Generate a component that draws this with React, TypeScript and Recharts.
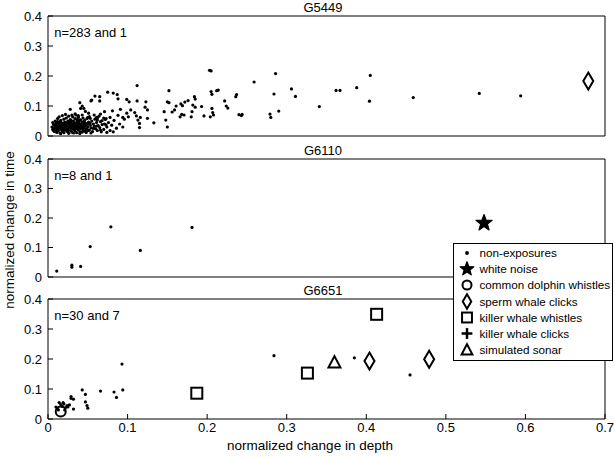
import React from 'react';
import { ScatterChart, Scatter, XAxis, YAxis, Legend } from 'recharts';

const X_TICKS = [0, 0.1, 0.2, 0.3, 0.4, 0.5, 0.6, 0.7];
const Y_TICKS = [0, 0.1, 0.2, 0.3, 0.4];
const X_LABEL = 'normalized change in depth';
const Y_LABEL = 'normalized change in time';

type Kind = 'dot' | 'star' | 'circle' | 'diamond' | 'square' | 'plus' | 'triangle';
const LEGEND_NAMES = ['non-exposures', 'white noise', 'common dolphin whistles', 'sperm whale clicks', 'killer whale whistles', 'killer whale clicks', 'simulated sonar'];
const LEGEND_KINDS: Kind[] = ['dot', 'star', 'circle', 'diamond', 'square', 'plus', 'triangle'];

// ---- G5449 ----
const G5449_NON: [number, number][] = [
  [0.203, 0.219], [0.205, 0.217], [0.286, 0.208], [0.259, 0.18], [0.112, 0.168], [0.306, 0.157], [0.311, 0.132], [0.284, 0.14],
  [0.237, 0.138], [0.236, 0.131], [0.214, 0.153], [0.212, 0.151], [0.205, 0.148], [0.206, 0.139], [0.152, 0.151], [0.075, 0.146],
  [0.082, 0.143], [0.087, 0.138], [0.088, 0.124], [0.059, 0.133], [0.065, 0.131], [0.055, 0.12], [0.054, 0.117], [0.065, 0.117],
  [0.099, 0.122], [0.102, 0.114], [0.112, 0.117], [0.123, 0.114], [0.122, 0.096], [0.184, 0.131], [0.185, 0.123], [0.176, 0.118],
  [0.172, 0.113], [0.167, 0.107], [0.169, 0.101], [0.152, 0.111], [0.15, 0.114], [0.161, 0.1], [0.159, 0.087], [0.156, 0.08],
  [0.146, 0.081], [0.148, 0.053], [0.15, 0.03], [0.168, 0.072], [0.166, 0.064], [0.171, 0.07], [0.182, 0.103], [0.185, 0.096],
  [0.193, 0.098], [0.181, 0.081], [0.18, 0.064], [0.196, 0.067], [0.206, 0.092], [0.207, 0.078], [0.208, 0.07], [0.204, 0.064],
  [0.222, 0.117], [0.224, 0.1], [0.226, 0.093], [0.24, 0.071], [0.244, 0.072], [0.243, 0.068], [0.279, 0.073], [0.28, 0.062],
  [0.29, 0.083], [0.341, 0.098], [0.091, 0.089], [0.081, 0.084], [0.088, 0.069], [0.094, 0.062], [0.071, 0.081], [0.073, 0.058],
  [0.066, 0.073], [0.061, 0.062], [0.062, 0.053], [0.068, 0.051], [0.071, 0.04], [0.073, 0.037], [0.104, 0.087], [0.109, 0.078],
  [0.111, 0.067], [0.116, 0.062], [0.113, 0.053], [0.115, 0.042], [0.115, 0.028], [0.125, 0.059], [0.133, 0.044], [0.099, 0.076],
  [0.101, 0.064], [0.096, 0.056], [0.045, 0.092], [0.047, 0.082], [0.043, 0.07], [0.051, 0.076], [0.053, 0.059], [0.05, 0.042],
  [0.048, 0.014], [0.051, 0.018], [0.035, 0.07], [0.038, 0.064], [0.04, 0.053], [0.125, 0.087], [0.028, 0.089], [0.04, 0.111],
  [0.043, 0.1], [0.041, 0.092], [0.362, 0.152], [0.367, 0.152], [0.388, 0.161], [0.405, 0.202], [0.404, 0.116], [0.459, 0.128],
  [0.542, 0.142], [0.594, 0.134],
  [0.005, 0.03], [0.006, 0.022], [0.007, 0.038], [0.008, 0.027], [0.008, 0.015], [0.009, 0.033], [0.01, 0.042], [0.01, 0.02],
  [0.011, 0.028], [0.011, 0.012], [0.012, 0.036], [0.012, 0.048], [0.013, 0.024], [0.013, 0.018], [0.014, 0.031], [0.014, 0.04],
  [0.015, 0.01], [0.015, 0.027], [0.016, 0.052], [0.016, 0.035], [0.017, 0.021], [0.017, 0.044], [0.018, 0.03], [0.018, 0.015],
  [0.019, 0.038], [0.019, 0.025], [0.02, 0.056], [0.02, 0.011], [0.021, 0.033], [0.021, 0.046], [0.022, 0.02], [0.022, 0.029],
  [0.023, 0.04], [0.023, 0.06], [0.024, 0.015], [0.024, 0.034], [0.025, 0.024], [0.025, 0.05], [0.026, 0.043], [0.026, 0.009],
  [0.027, 0.03], [0.027, 0.037], [0.028, 0.019], [0.028, 0.055], [0.029, 0.026], [0.029, 0.045], [0.03, 0.033], [0.03, 0.013],
  [0.031, 0.04], [0.031, 0.064], [0.032, 0.022], [0.032, 0.05], [0.033, 0.029], [0.033, 0.036], [0.034, 0.017], [0.034, 0.058],
  [0.035, 0.043], [0.035, 0.025], [0.036, 0.032], [0.036, 0.011], [0.037, 0.048], [0.037, 0.038], [0.038, 0.021], [0.038, 0.062],
  [0.039, 0.029], [0.039, 0.044], [0.04, 0.015], [0.04, 0.035], [0.041, 0.054], [0.041, 0.024], [0.042, 0.04], [0.042, 0.031],
  [0.043, 0.013], [0.043, 0.047], [0.044, 0.06], [0.044, 0.02], [0.045, 0.036], [0.045, 0.027], [0.046, 0.052], [0.046, 0.016],
  [0.047, 0.042], [0.047, 0.033], [0.048, 0.024], [0.049, 0.058], [0.049, 0.038], [0.05, 0.03], [0.051, 0.046], [0.052, 0.02],
  [0.052, 0.065], [0.053, 0.036], [0.054, 0.027], [0.055, 0.05], [0.056, 0.015], [0.057, 0.04], [0.058, 0.032], [0.059, 0.056],
  [0.06, 0.024], [0.061, 0.045], [0.062, 0.018], [0.063, 0.035], [0.064, 0.066], [0.065, 0.028], [0.066, 0.048], [0.067, 0.014],
  [0.068, 0.038], [0.07, 0.022], [0.072, 0.055], [0.074, 0.03], [0.076, 0.045], [0.078, 0.018], [0.08, 0.036], [0.083, 0.052],
  [0.086, 0.026], [0.006, 0.045], [0.009, 0.05], [0.012, 0.058], [0.014, 0.064], [0.018, 0.068], [0.022, 0.072], [0.026, 0.066],
  [0.03, 0.07], [0.034, 0.074], [0.038, 0.068], [0.016, 0.008], [0.02, 0.04], [0.024, 0.045], [0.028, 0.041], [0.032, 0.01],
  [0.036, 0.055], [0.04, 0.008], [0.044, 0.03], [0.048, 0.012], [0.05, 0.062], [0.054, 0.01], [0.058, 0.07], [0.062, 0.06],
  [0.066, 0.02], [0.07, 0.06], [0.074, 0.012], [0.078, 0.062], [0.082, 0.014], [0.09, 0.04], [0.094, 0.03], [0.01, 0.03],
  [0.013, 0.045], [0.017, 0.035], [0.021, 0.025], [0.025, 0.018], [0.029, 0.052], [0.033, 0.044], [0.037, 0.026], [0.041, 0.036],
  [0.045, 0.045], [0.049, 0.022], [0.053, 0.043], [0.057, 0.025], [0.061, 0.033], [0.007, 0.018], [0.011, 0.04], [0.015, 0.048],
  [0.019, 0.018], [0.023, 0.026], [0.027, 0.048], [0.031, 0.028], [0.035, 0.035], [0.039, 0.052], [0.043, 0.025],
];
const G5449_SPERM: [number, number][] = [[0.679, 0.183]];

// ---- G6110 ----
const G6110_NON: [number, number][] = [
  [0.011, 0.02], [0.03, 0.04], [0.03, 0.033], [0.041, 0.036], [0.053, 0.103], [0.079, 0.17], [0.116, 0.09], [0.181, 0.168],
];
const G6110_WHITE: [number, number][] = [[0.548, 0.183]];

// ---- G6651 ----
const G6651_NON: [number, number][] = [
  [0.093, 0.183], [0.284, 0.211], [0.043, 0.097], [0.047, 0.082], [0.066, 0.093], [0.083, 0.09], [0.086, 0.072], [0.094, 0.097],
  [0.029, 0.075], [0.029, 0.069], [0.032, 0.066], [0.032, 0.033], [0.027, 0.047], [0.025, 0.04], [0.047, 0.057], [0.049, 0.045],
  [0.05, 0.036], [0.385, 0.204], [0.455, 0.147], [0.01, 0.04], [0.012, 0.035], [0.014, 0.055], [0.016, 0.048], [0.018, 0.042],
  [0.02, 0.05], [0.022, 0.038], [0.013, 0.03], [0.021, 0.03], [0.019, 0.055], [0.024, 0.045],
];
const G6651_DOLPHIN: [number, number][] = [[0.016, 0.025]];
const G6651_SPERM: [number, number][] = [[0.404, 0.193], [0.479, 0.199]];
const G6651_KWW: [number, number][] = [[0.187, 0.086], [0.326, 0.153], [0.413, 0.349]];
const G6651_SONAR: [number, number][] = [[0.36, 0.188]];

const toPts = (a: [number, number][]) => a.map(([x, y]) => ({ x, y }));

const FONT = '"Liberation Sans", Arial, Helvetica, sans-serif';

function starPoints(cx: number, cy: number, R: number) {
  const r = R * 0.42;
  const pts: string[] = [];
  for (let i = 0; i < 10; i++) {
    const a = -Math.PI / 2 + (i * Math.PI) / 5;
    const rad = i % 2 === 0 ? R : r;
    pts.push(`${cx + rad * Math.cos(a)},${cy + rad * Math.sin(a)}`);
  }
  return pts.join(' ');
}

function Marker({ kind, cx, cy, s = 1 }: { kind: Kind; cx: number; cy: number; s?: number }) {
  const sw = 2;
  switch (kind) {
    case 'dot':
      return <circle cx={cx} cy={cy} r={1.6 * s} fill="#000" />;
    case 'star':
      return <polygon points={starPoints(cx, cy, 8.5 * s)} fill="#000" stroke="#000" strokeWidth={1.2} strokeLinejoin="round" />;
    case 'circle':
      return <circle cx={cx} cy={cy} r={5 * s} fill="none" stroke="#000" strokeWidth={sw} />;
    case 'diamond':
      return <polygon points={`${cx},${cy - 8.5 * s} ${cx + 5 * s},${cy} ${cx},${cy + 8.5 * s} ${cx - 5 * s},${cy}`} fill="none" stroke="#000" strokeWidth={sw} />;
    case 'square':
      return <rect x={cx - 5.5 * s} y={cy - 5.5 * s} width={11 * s} height={11 * s} fill="none" stroke="#000" strokeWidth={sw} />;
    case 'plus':
      return (
        <g stroke="#000" strokeWidth={2.5}>
          <line x1={cx - 6 * s} y1={cy} x2={cx + 6 * s} y2={cy} />
          <line x1={cx} y1={cy - 6 * s} x2={cx} y2={cy + 6 * s} />
        </g>
      );
    case 'triangle':
      return <polygon points={`${cx},${cy - 6.5 * s} ${cx + 6 * s},${cy + 5 * s} ${cx - 6 * s},${cy + 5 * s}`} fill="none" stroke="#000" strokeWidth={sw} strokeLinejoin="miter" />;
  }
  return null;
}

type SeriesDef = { name: string; kind: Kind; data: [number, number][] };

function LegendBox() {
  const rowY = [10, 26, 42, 58.5, 74.5, 90.5, 107];
  return (
    <svg width={160} height={118} style={{ display: 'block' }}>
      <rect x={0.5} y={0.5} width={159} height={117} fill="#fff" stroke="#000" strokeWidth={1} />
      {LEGEND_NAMES.map((n, i) => (
        <g key={n}>
          <Marker kind={LEGEND_KINDS[i]} cx={14} cy={rowY[i]} s={i === 0 ? 1.2 : i === 1 ? 0.85 : i === 3 ? 0.85 : 0.9} />
          <text x={26.5} y={rowY[i] + 4.2} fontSize={11.7} fill="#000" fontFamily={FONT}>{n}</text>
        </g>
      ))}
    </svg>
  );
}

function Panel({
  plotTop, plotH, bottomH, title, note, series, showX, yLabel, legend,
}: {
  plotTop: number; plotH: number; bottomH: number; title: string; note: string; series: SeriesDef[]; showX?: boolean; yLabel?: boolean; legend?: boolean;
}) {
  const topH = 16;
  const mTop = plotTop - topH;
  const mBottom = 457 - (plotTop + plotH + bottomH);
  const tickStyle = { fill: '#000', fontSize: 13, fontFamily: FONT };
  return (
    <div style={{ position: 'absolute', left: 0, top: 0, width: 615, height: 457 }}>
      <ScatterChart width={615} height={457} margin={{ top: mTop, right: 0, bottom: mBottom, left: 0 }}>
        <XAxis
          xAxisId="b" type="number" dataKey="x" domain={[0, 0.7]} ticks={X_TICKS} interval={0}
          orientation="bottom" height={bottomH} stroke="#000" tickSize={-5} tickMargin={9}
          tick={showX ? tickStyle : false}
          label={showX ? (p: any) => (
            <text x={310} y={450} textAnchor="middle" fontSize={13.5} fill="#000" fontFamily={FONT}>{X_LABEL}</text>
          ) : undefined}
        />
        <XAxis
          xAxisId="t" type="number" domain={[0, 0.7]} ticks={X_TICKS} interval={0}
          orientation="top" height={topH} stroke="#000" tickSize={-5} tick={false}
          label={(p: any) => {
            const vb = p.viewBox || { x: 48, y: mTop, width: 557, height: topH };
            return (
              <g>
                <text x={323} y={vb.y + vb.height - 4} textAnchor="middle" fontSize={13} fill="#000" fontFamily={FONT}>{title}</text>
                <text x={vb.x + 6.3} y={vb.y + vb.height + 21} fontSize={13} fill="#000" fontFamily={FONT}>{note}</text>
              </g>
            );
          }}
        />
        <YAxis
          yAxisId="l" type="number" dataKey="y" domain={[0, 0.4]} ticks={Y_TICKS} interval={0}
          width={48} stroke="#000" tickSize={-5} tickMargin={11} tick={tickStyle}
          label={yLabel ? (p: any) => (
            <text transform="translate(13.5,230) rotate(-90)" x={0} y={0} textAnchor="middle" fontSize={13.5} fill="#000" fontFamily={FONT}>{Y_LABEL}</text>
          ) : undefined}
        />
        <YAxis
          yAxisId="r" type="number" domain={[0, 0.4]} ticks={Y_TICKS} interval={0}
          orientation="right" width={10} stroke="#000" tickSize={-5} tick={false}
        />
        {series.map((s) => (
          <Scatter
            key={s.name}
            name={s.name}
            data={toPts(s.data)}
            xAxisId="b"
            yAxisId="l"
            isAnimationActive={false}
            shape={(p: any) => <Marker kind={s.kind} cx={p.cx} cy={p.cy} />}
          />
        ))}
        {legend ? (
          <Legend
            layout="vertical"
            align="center"
            verticalAlign="middle"
            wrapperStyle={{ position: 'absolute', left: 453, top: 243, width: 160, height: 118, margin: 0, padding: 0 }}
            content={() => <LegendBox />}
          />
        ) : null}
      </ScatterChart>
    </div>
  );
}

export default function App() {
  return (
    <div style={{ position: 'absolute', left: 0, top: 0, width: 615, height: 457, background: '#fff', fontFamily: FONT }}>
      <Panel
        plotTop={16} plotH={120} bottomH={4} title="G5449" note="n=283 and 1"
        series={[
          { name: 'non-exposures', kind: 'dot', data: G5449_NON },
          { name: 'sperm whale clicks', kind: 'diamond', data: G5449_SPERM },
        ]}
      />
      <Panel
        plotTop={159} plotH={118} bottomH={4} title="G6110" note="n=8 and 1" yLabel
        series={[
          { name: 'non-exposures', kind: 'dot', data: G6110_NON },
          { name: 'white noise', kind: 'star', data: G6110_WHITE },
        ]}
      />
      <Panel
        plotTop={299} plotH={120} bottomH={38} title="G6651" note="n=30 and 7" showX legend
        series={[
          { name: 'non-exposures', kind: 'dot', data: G6651_NON },
          { name: 'common dolphin whistles', kind: 'circle', data: G6651_DOLPHIN },
          { name: 'sperm whale clicks', kind: 'diamond', data: G6651_SPERM },
          { name: 'killer whale whistles', kind: 'square', data: G6651_KWW },
          { name: 'simulated sonar', kind: 'triangle', data: G6651_SONAR },
        ]}
      />
    </div>
  );
}
